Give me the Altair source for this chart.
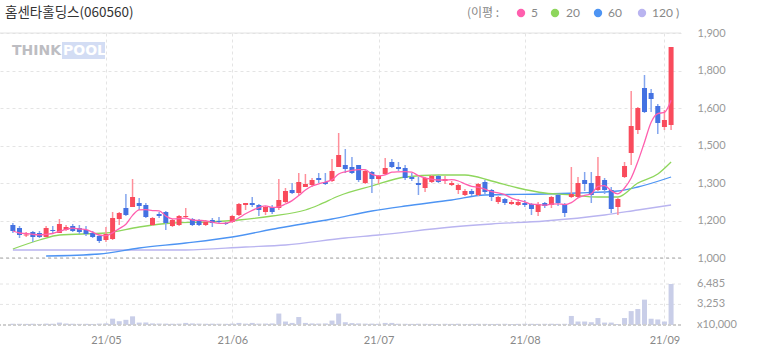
import altair as alt
import pandas as pd

# ---------------- data ----------------
idx = list(range(100))
opens = [1132,1120,1090,1104,1100,1084,1112,1100,1112,1128,
         1120,1112,1100,1088,1072,1076,1156,1200,1204,1220,
         1212,1132,1176,1184,1128,1132,1164,1156,1152,1132,
         1152,1148,1140,1144,1172,1212,1220,1212,1184,1204,
         1200,1224,1272,1260,1284,1292,1320,1304,1308,1364,
         1372,1364,1372,1300,1344,1316,1336,1384,1364,1360,
         1324,1300,1280,1304,1328,1308,1292,1272,1252,1268,
         1252,1304,1272,1224,1236,1216,1212,1220,1216,1184,
         1220,1212,1252,1216,1244,1244,1312,1300,1272,1312,
         1272,1204,1324,1420,1512,1680,1660,1608,1524,1532]
highs = [1140,1128,1104,1108,1108,1128,1128,1156,1132,1136,
         1132,1128,1108,1092,1124,1184,1184,1256,1316,1240,
         1220,1164,1184,1188,1156,1172,1200,1160,1156,1152,
         1160,1164,1144,1172,1220,1220,1244,1216,1208,1212,
         1316,1280,1300,1340,1336,1320,1340,1340,1396,1500,
         1436,1404,1372,1352,1348,1332,1400,1396,1384,1372,
         1340,1324,1324,1332,1332,1328,1308,1296,1276,1276,
         1300,1312,1276,1248,1240,1232,1236,1232,1220,1224,
         1224,1248,1256,1220,1364,1324,1344,1344,1404,1320,
         1284,1240,1384,1668,1604,1732,1676,1616,1592,1844]
lows = [1100,1080,1084,1064,1080,1084,1100,1100,1108,1104,
        1096,1088,1080,1060,1064,1072,1132,1168,1204,1192,
        1160,1128,1160,1112,1124,1128,1160,1128,1128,1128,
        1124,1140,1132,1140,1168,1192,1204,1168,1172,1176,
        1192,1220,1256,1252,1284,1284,1300,1292,1304,1364,
        1340,1336,1304,1296,1260,1296,1332,1360,1348,1312,
        1308,1252,1264,1300,1300,1296,1288,1256,1248,1248,
        1248,1256,1228,1216,1212,1212,1208,1204,1172,1168,
        1200,1200,1208,1164,1240,1240,1268,1220,1268,1256,
        1180,1172,1320,1372,1496,1580,1584,1496,1512,1512]
closes = [1108,1092,1094,1084,1084,1120,1108,1136,1124,1108,
          1104,1096,1084,1068,1096,1160,1180,1172,1244,1208,
          1164,1160,1168,1140,1152,1168,1168,1132,1132,1144,
          1140,1144,1136,1168,1216,1220,1212,1192,1204,1184,
          1232,1268,1260,1304,1296,1312,1312,1296,1348,1412,
          1356,1340,1312,1348,1316,1328,1360,1364,1356,1320,
          1316,1292,1320,1328,1304,1316,1300,1292,1268,1256,
          1296,1264,1244,1244,1220,1224,1224,1212,1196,1216,
          1208,1244,1220,1180,1256,1300,1296,1252,1328,1272,
          1196,1236,1368,1528,1600,1584,1636,1540,1552,1844]
volumes = [200,190,180,200,170,220,200,380,250,200,
           180,190,170,220,260,1000,600,820,1370,380,
           400,250,230,220,200,210,330,250,220,200,
           210,200,190,230,330,220,330,220,230,250,
           1810,550,330,1260,330,250,230,250,700,1810,
           440,300,250,220,220,200,330,330,200,190,
           180,200,190,180,170,190,180,200,170,180,
           190,180,170,180,190,170,180,200,190,180,
           190,200,180,190,1430,550,550,440,1100,380,
           380,160,1100,2200,2530,4010,990,880,550,6485]

ma20_idx = [0,4,7,14,19,24,29,34,39,44,46,49,54,59,64,68,72,76,80,84,88,91,94,97,99]
ma20_val = [1036,1072,1092,1100,1124,1140,1144,1152,1168,1192,1212,1248,1288,1324,
            1332,1332,1308,1280,1260,1252,1244,1244,1300,1336,1384]
ma60_idx = [5,13,19,26,33,40,48,54,59,66,71,80,85,91,94,99]
ma60_val = [1008,1016,1040,1060,1084,1120,1156,1188,1208,1232,1252,1256,1260,1268,1284,1324]
ma120_idx = [0,15,26,35,41,50,55,66,72,80,89,94,99]
ma120_val = [1032,1032,1032,1044,1052,1080,1092,1124,1136,1148,1172,1192,1212]

price_ticks = [1000, 1150, 1300, 1450, 1600, 1750, 1900]
price_labels = ["1,000", "1,200", "1,300", "1,500", "1,600", "1,800", "1,900"]
vol_ticks = [0, 3253, 6485]
vol_labels = ["x10,000", "3,253", "6,485"]
month_idx = [14, 33, 55, 77, 98]
month_labels = ["21/05", "21/06", "21/07", "21/08", "21/09"]

title_text = "홈센타홀딩스(060560)"
legend_names = ["5", "20", "60", "120 )"]

# ---------------- styles ----------------
RED, RED_W = "#f94b5c", "#ff8f9a"
BLUE, BLUE_W = "#4472e2", "#84a6ee"
C5, C20, C60, C120 = "#ff5fae", "#8ed65c", "#4d94f3", "#b9b4f0"
VOLC = "#c9cee8"
GRID = "#e4e4e4"
FONT = "Lato"
KFONT = "Noto Sans CJK KR"

W, H = 681, 292
XDOM = [-1.185, 99.74]
PDOM = [732, 1900]
VDOM = [0, 46186]


def label_expr(vals, labels):
    e = "''"
    for v, l in reversed(list(zip(vals, labels))):
        e = f"datum.value == {v} ? '{l}' : ({e})"
    return e


df = pd.DataFrame(dict(i=idx, open=opens, high=highs, low=lows, close=closes, vol=volumes))

xs = alt.Scale(domain=XDOM, nice=False, zero=False)
ps = alt.Scale(domain=PDOM, nice=False, zero=False)
vs = alt.Scale(domain=VDOM, nice=False, zero=False)

x_axis = alt.Axis(values=month_idx, labelExpr=label_expr(month_idx, month_labels),
                  grid=True, gridDash=[3, 3], gridColor=GRID, domain=False, ticks=False,
                  labelColor="#888", labelFontSize=11, labelFont=FONT, labelPadding=9,
                  title=None)
y_axis = alt.Axis(values=price_ticks, labelExpr=label_expr(price_ticks, price_labels),
                  orient="right", grid=True, gridDash=[3, 3], gridColor=GRID,
                  domain=False, ticks=False, labelColor="#999", labelFontSize=11,
                  labelFont=FONT, labelPadding=16, title=None)


def XP(f="i:Q"):
    return alt.X(f, scale=xs, axis=x_axis)


def YP(f):
    return alt.Y(f, scale=ps, axis=y_axis)


def YV(f):
    return alt.Y(f, scale=vs, axis=None)


base = alt.Chart(df)
color_cond = "datum.close >= datum.open"

top_rule = alt.Chart(pd.DataFrame({"p": [price_ticks[-1]]})).mark_rule(color="#e2e2e2", strokeWidth=1).encode(y=YP("p:Q"))
base_rule = alt.Chart(pd.DataFrame({"p": [price_ticks[0]]})).mark_rule(color="#a8a8a8", strokeDash=[3, 3], strokeWidth=1).encode(y=YP("p:Q"))

ma120 = alt.Chart(pd.DataFrame({"i": ma120_idx, "v": ma120_val})).mark_line(
    color=C120, strokeWidth=1.3, interpolate="monotone").encode(x=XP(), y=YP("v:Q"))
ma60 = alt.Chart(pd.DataFrame({"i": ma60_idx, "v": ma60_val})).mark_line(
    color=C60, strokeWidth=1.3, interpolate="monotone").encode(x=XP(), y=YP("v:Q"))
ma20 = alt.Chart(pd.DataFrame({"i": ma20_idx, "v": ma20_val})).mark_line(
    color=C20, strokeWidth=1.3, interpolate="monotone").encode(x=XP(), y=YP("v:Q"))
ma5 = base.transform_window(ma5="mean(close)", frame=[-4, 0], sort=[alt.SortField("i")]).mark_line(
    color=C5, strokeWidth=1.3, interpolate="monotone").encode(x=XP(), y=YP("ma5:Q"))

wicks = base.mark_rule(strokeWidth=1.5).encode(
    x=XP(), y=YP("low:Q"), y2="high:Q",
    color=alt.condition(color_cond, alt.value(RED_W), alt.value(BLUE_W)),
)
bodies = base.mark_bar(size=5).encode(
    x=XP(), y=YP("open:Q"), y2="close:Q",
    color=alt.condition(color_cond, alt.value(RED), alt.value(BLUE)),
)

price = alt.layer(top_rule, base_rule, ma120, ma60, ma20, wicks, bodies, ma5)

# volume panel
vol_df = pd.DataFrame({"v": vol_ticks, "t": vol_labels})
vol_grid = alt.Chart(vol_df[vol_df.v > 0]).mark_rule(color=GRID, strokeDash=[3, 3]).encode(y=YV("v:Q"))
vol_base = alt.Chart(vol_df[vol_df.v == 0]).mark_rule(color="#cfcfcf", strokeDash=[3, 2], strokeWidth=2).encode(y=YV("v:Q"))
vol_bars = base.mark_bar(size=5, color=VOLC).encode(x=XP(), y=YV("vol:Q"))
vol_text = alt.Chart(vol_df).mark_text(align="left", baseline="middle", font=FONT, fontSize=11, color="#999").encode(
    y=YV("v:Q"), x=alt.value(697), text="t:N")
volume = alt.layer(vol_grid, vol_bars, vol_base, vol_text)


# header texts
def txt(s, x, y, size=12, color="#888", font=KFONT, weight="normal", align="left"):
    return alt.Chart(pd.DataFrame({"t": [s]})).mark_text(
        align=align, baseline="middle", fontSize=size, color=color, font=font, fontWeight=weight
    ).encode(text="t:N", x=alt.value(x), y=alt.value(y))


def dot(x, y, color):
    return alt.Chart(pd.DataFrame({"t": [0]})).mark_circle(size=70, color=color, opacity=1).encode(
        x=alt.value(x), y=alt.value(y))


header = [
    txt(title_text, 5, -20, size=13.5, color="#333"),
    txt("(이평 :", 467, -20, size=12, color="#888"),
    dot(521, -20, C5), txt(legend_names[0], 531, -20, size=12, font=FONT),
    dot(555, -20, C20), txt(legend_names[1], 566, -20, size=12, font=FONT),
    dot(598, -20, C60), txt(legend_names[2], 608, -20, size=12, font=FONT),
    dot(642, -20, C120), txt(legend_names[3], 652, -20, size=12, font=FONT),
]

logo_bg = alt.Chart(pd.DataFrame({"t": [0]})).mark_rect(color="#d3ddf4").encode(
    x=alt.value(62), x2=alt.value(105), y=alt.value(9), y2=alt.value(26))
logo = [logo_bg,
        txt("THINK", 12, 18, size=14, color="#bdbdc2", font="DejaVu Sans", weight="bold"),
        txt("POOL", 63, 18, size=14, color="#ffffff", font="DejaVu Sans", weight="bold")]

chart = alt.layer(*logo, price, volume, *header).resolve_scale(y="independent").properties(
    width=W, height=H,
    autosize=alt.AutoSizeParams(type="none"),
    padding={"left": 0, "top": 33, "right": 77, "bottom": 30},
    background="white",
).configure_view(stroke=None)

chart.save("out.html", embed_options={"renderer": "svg", "actions": False})
